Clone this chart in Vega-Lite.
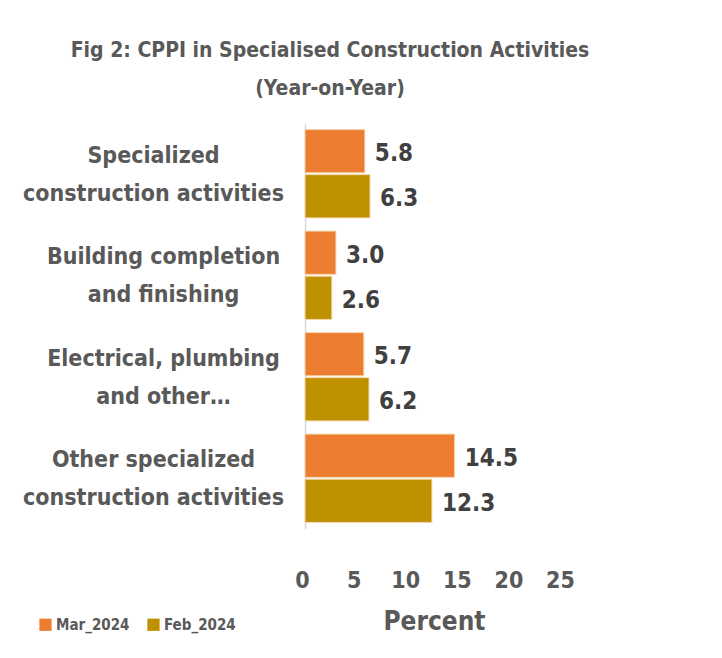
{
  "$schema": "https://vega.github.io/schema/vega-lite/v6.json",
  "width": 258,
  "height": 406,
  "autosize": "none",
  "padding": {"left": 305, "top": 123, "right": 159, "bottom": 129},
  "background": "white",
  "config": {"view": {"stroke": null}, "font": "DejaVu Sans Condensed, Open Sans, sans-serif"},
  "title": {
    "text": ["Fig 2: CPPI in Specialised Construction Activities", "(Year-on-Year)"],
    "fontSize": 21,
    "fontWeight": "bold",
    "color": "#595959",
    "anchor": "middle",
    "dx": -104,
    "lineHeight": 38,
    "offset": 24
  },
  "data": {
    "values": [
      {"category": "Specialized|construction activities", "month": "Mar_2024", "value": 5.8},
      {"category": "Specialized|construction activities", "month": "Feb_2024", "value": 6.3},
      {"category": "Building completion|and finishing", "month": "Mar_2024", "value": 3.0},
      {"category": "Building completion|and finishing", "month": "Feb_2024", "value": 2.6},
      {"category": "Electrical, plumbing|and other…", "month": "Mar_2024", "value": 5.7},
      {"category": "Electrical, plumbing|and other…", "month": "Feb_2024", "value": 6.2},
      {"category": "Other specialized|construction activities", "month": "Mar_2024", "value": 14.5},
      {"category": "Other specialized|construction activities", "month": "Feb_2024", "value": 12.3}
    ]
  },
  "encoding": {
    "y": {
      "field": "category",
      "type": "nominal",
      "sort": null,
      "scale": {"paddingInner": 0.13, "paddingOuter": 0.065},
      "axis": {
        "title": null,
        "labelExpr": "split(datum.label, '|')",
        "labelFontSize": 23,
        "labelFontWeight": "bold",
        "labelColor": "#595959",
        "labelAlign": "center",
        "labelBaseline": "middle",
        "labelLineHeight": 38,
        "labelOffset": -18,
        "labelPadding": {"condition": {"test": "indexof(datum.value, 'Building') == 0 || indexof(datum.value, 'Electrical') == 0", "value": 142}, "value": 152},
        "labelLimit": 400,
        "ticks": false,
        "domainColor": "#D9D9D9",
        "domainWidth": 1.5
      }
    },
    "yOffset": {"field": "month", "type": "nominal", "sort": ["Mar_2024", "Feb_2024"], "scale": {"paddingInner": 0.04}},
    "x": {
      "field": "value",
      "type": "quantitative",
      "scale": {"domain": [0, 25]},
      "axis": {
        "values": [0, 5, 10, 15, 20, 25],
        "title": "Percent",
        "titleFontSize": 26,
        "titleFontWeight": "bold",
        "titleColor": "#595959",
        "titlePadding": 16,
        "labelFontSize": 23,
        "labelFontWeight": "bold",
        "labelColor": "#595959",
        "labelPadding": 40,
        "labelFlush": false,
        "labelOffset": -3,
        "ticks": false,
        "domain": false,
        "grid": false
      }
    }
  },
  "layer": [
    {
      "mark": {"type": "bar", "stroke": "#F4D8B0", "strokeWidth": 1},
      "encoding": {
        "color": {
          "field": "month",
          "type": "nominal",
          "scale": {"domain": ["Mar_2024", "Feb_2024"], "range": ["#ED7D31", "#BF9000"]},
          "legend": {
            "title": null,
            "orient": "none",
            "legendX": -267,
            "legendY": 494,
            "direction": "horizontal",
            "symbolType": "square",
            "symbolSize": 150,
            "symbolStrokeWidth": 0,
            "labelFontSize": 15,
            "labelFontWeight": "bold",
            "labelColor": "#595959",
            "labelOffset": 3,
            "columnPadding": 16
          }
        }
      }
    },
    {
      "mark": {"type": "text", "align": "left", "baseline": "middle", "dx": 10, "dy": 3, "fontSize": 24, "fontWeight": "bold", "color": "#404040"},
      "encoding": {
        "text": {"field": "value", "type": "quantitative", "format": ".1f"}
      }
    }
  ]
}
